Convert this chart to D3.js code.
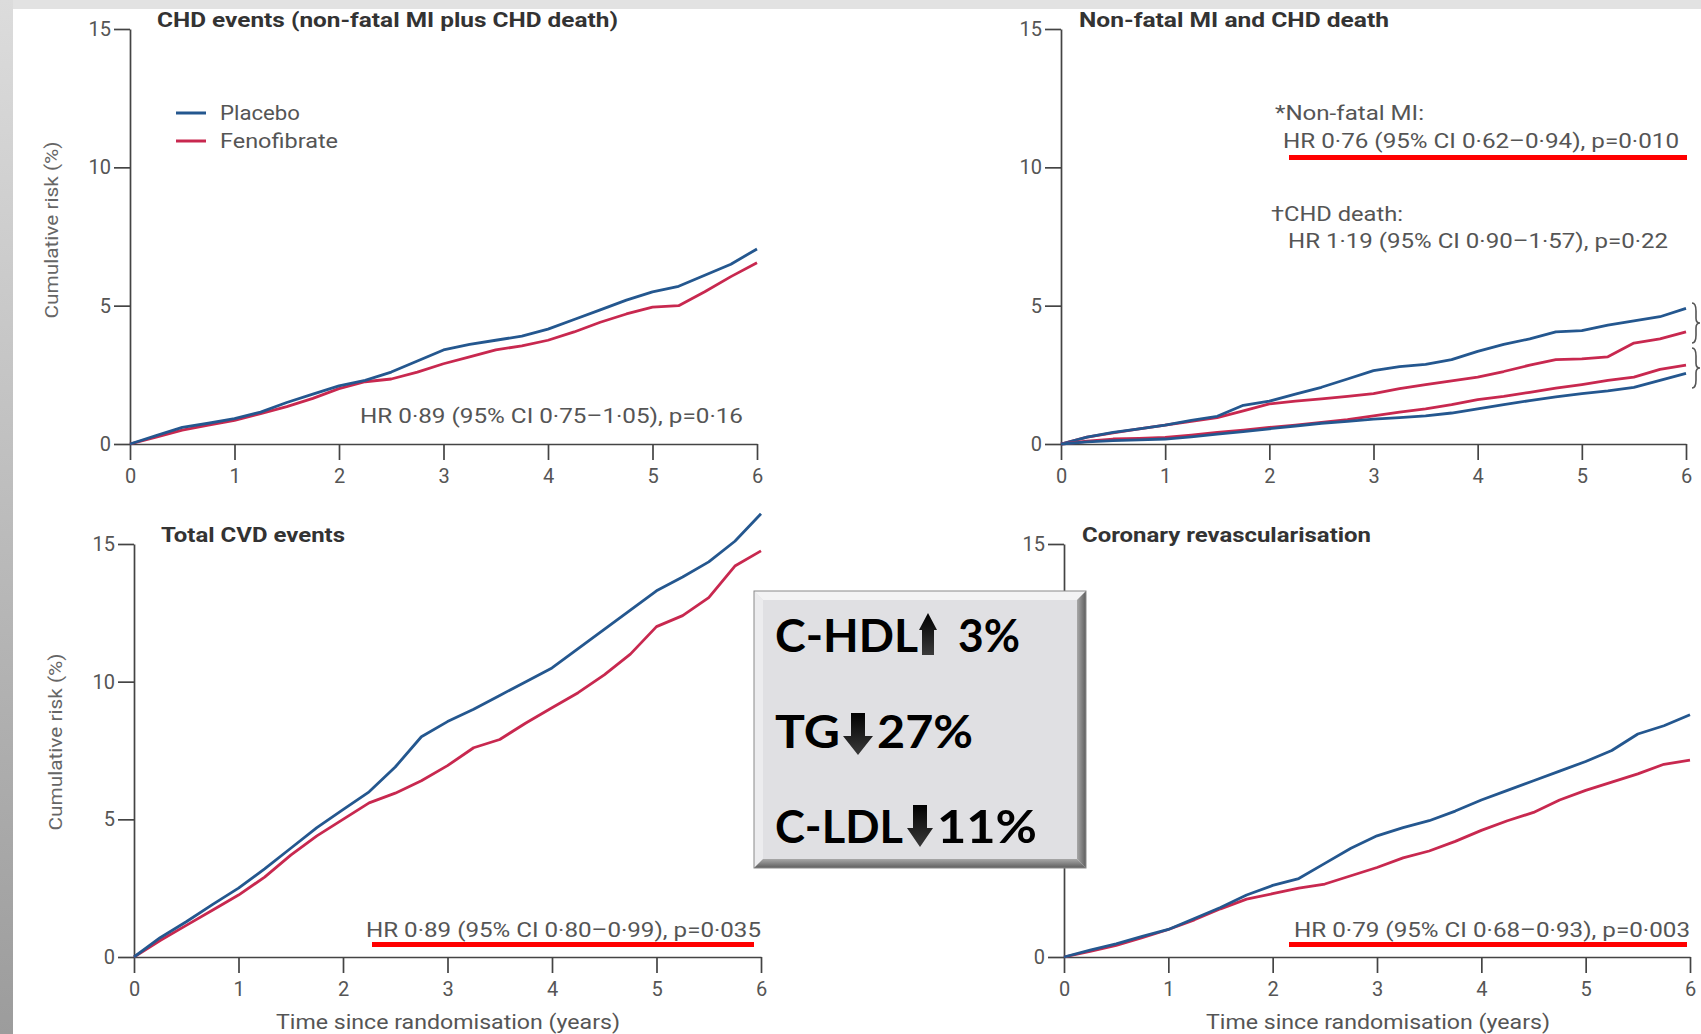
<!DOCTYPE html>
<head>
<meta charset="utf-8">
<style>
  body { margin: 0; background: #fff; }
  svg { display: block; }
  .tick text { font-family: 'Liberation Sans Narrow', 'Arial Narrow', Roboto, sans-serif; }
</style>
</head>
<body>
  <svg width="1701" height="1034"></svg>

  <script src="https://d3js.org/d3.v7.min.js"></script>
  <script>
  // time since randomisation (years) at which the curves were read
  const years = [0, 0.25, 0.5, 0.75, 1, 1.25, 1.5, 1.75, 2, 2.25, 2.5, 2.75, 3,
                 3.25, 3.5, 3.75, 4, 4.25, 4.5, 4.75, 5, 5.25, 5.5, 5.75, 6];

  // cumulative risk (%)
  const chdPlacebo = [0, 0.3, 0.6, 0.75, 0.92, 1.15, 1.5, 1.8, 2.1, 2.3, 2.6, 3.0, 3.4,
                      3.6, 3.75, 3.9, 4.15, 4.5, 4.85, 5.2, 5.5, 5.7, 6.1, 6.5, 7.05];
  const chdFeno    = [0, 0.25, 0.5, 0.68, 0.85, 1.1, 1.35, 1.65, 2.0, 2.25, 2.35, 2.6, 2.9,
                      3.15, 3.4, 3.55, 3.75, 4.05, 4.4, 4.7, 4.95, 5.0, 5.5, 6.05, 6.55];

  const miPlacebo    = [0, 0.25, 0.42, 0.55, 0.68, 0.85, 1.0, 1.4, 1.55, 1.8, 2.05, 2.35, 2.65,
                        2.8, 2.88, 3.05, 3.35, 3.6, 3.8, 4.05, 4.1, 4.3, 4.45, 4.6, 4.9];
  const miFeno       = [0, 0.25, 0.4, 0.55, 0.68, 0.82, 0.95, 1.2, 1.45, 1.55, 1.63, 1.72, 1.82,
                        2.0, 2.15, 2.28, 2.42, 2.62, 2.85, 3.05, 3.08, 3.15, 3.65, 3.8, 4.05];
  const deathFeno    = [0, 0.1, 0.18, 0.2, 0.24, 0.32, 0.42, 0.5, 0.6, 0.68, 0.78, 0.88, 1.02,
                        1.15, 1.27, 1.42, 1.6, 1.72, 1.87, 2.02, 2.15, 2.3, 2.42, 2.7, 2.85];
  const deathPlacebo = [0, 0.08, 0.12, 0.15, 0.18, 0.26, 0.36, 0.45, 0.55, 0.65, 0.75, 0.82, 0.9,
                        0.95, 1.02, 1.12, 1.27, 1.42, 1.57, 1.7, 1.82, 1.92, 2.05, 2.3, 2.55];

  const cvdPlacebo = [0, 0.7, 1.28, 1.9, 2.5, 3.2, 3.95, 4.7, 5.35, 6.0, 6.9, 8.0, 8.55,
                      9.0, 9.5, 10.0, 10.5, 11.2, 11.9, 12.6, 13.3, 13.8, 14.35, 15.1, 16.1];
  const cvdFeno    = [0, 0.6, 1.15, 1.7, 2.25, 2.9, 3.7, 4.4, 5.0, 5.6, 5.95, 6.4, 6.95,
                      7.6, 7.9, 8.5, 9.05, 9.6, 10.25, 11.0, 12.0, 12.4, 13.05, 14.2, 14.75];

  const revascPlacebo = [0, 0.25, 0.48, 0.75, 1.0, 1.4, 1.8, 2.25, 2.6, 2.85, 3.4, 3.95, 4.4,
                         4.7, 4.95, 5.3, 5.7, 6.05, 6.4, 6.75, 7.1, 7.5, 8.1, 8.4, 8.8];
  const revascFeno    = [0, 0.2, 0.42, 0.7, 1.0, 1.35, 1.75, 2.1, 2.3, 2.5, 2.65, 2.95, 3.25,
                         3.6, 3.85, 4.2, 4.6, 4.95, 5.25, 5.7, 6.05, 6.35, 6.65, 7.0, 7.15];

  const xTicks = [0, 1, 2, 3, 4, 5, 6];
  const yTicks = [0, 5, 10, 15];
  const legendLabels = ['Placebo', 'Fenofibrate'];
  const xLabel = 'Time since randomisation (years)';
  const yLabel = 'Cumulative risk (%)';

  const BLUE = '#24578f';
  const RED = '#c8284f';
  const FONT = "'Liberation Sans Narrow', 'Arial Narrow', Roboto, sans-serif";

  const svg = d3.select('svg');
  const defs = svg.append('defs');

  // slide background strips
  const stripGrad = defs.append('linearGradient').attr('id', 'strip')
    .attr('x1', 0).attr('y1', 0).attr('x2', 0).attr('y2', 1);
  stripGrad.append('stop').attr('offset', 0).attr('stop-color', '#dcdcdc');
  stripGrad.append('stop').attr('offset', 1).attr('stop-color', '#9c9c9c');
  svg.append('rect').attr('x', 0).attr('y', 0).attr('width', 1701).attr('height', 9).attr('fill', '#e2e2e2');
  svg.append('rect').attr('x', 0).attr('y', 0).attr('width', 13).attr('height', 1034).attr('fill', 'url(#strip)');

  const txt = (g, x, y, s, o = {}) => {
    const t = g.append('text')
      .attr('x', x).attr('y', y)
      .attr('font-family', o.family || FONT)
      .attr('font-size', o.size || 20)
      .attr('font-weight', o.weight || 'normal')
      .attr('fill', o.fill || '#555')
      .attr('text-anchor', o.anchor || 'start')
      .text(s);
    if (o.width) t.attr('textLength', o.width).attr('lengthAdjust', 'spacingAndGlyphs');
    if (o.rotate) t.attr('transform', `rotate(${o.rotate},${x},${y})`);
    return t;
  };

  const panels = [
    { title: 'CHD events (non-fatal MI plus CHD death)', titleW: 461,
      left: 130, right: 757, top: 29, bottom: 444,
      series: [[chdFeno, RED], [chdPlacebo, BLUE]],
      yLab: { x: 58, y: 230 }, legend: true,
      hr: { text: 'HR 0·89 (95% CI 0·75–1·05), p=0·16', x: 360, y: 423, w: 383 } },
    { title: 'Non-fatal MI and CHD death', titleW: 310,
      left: 1061, right: 1686, top: 29, bottom: 444,
      series: [[miFeno, RED], [miPlacebo, BLUE], [deathFeno, RED], [deathPlacebo, BLUE]],
      braces: true },
    { title: 'Total CVD events', titleW: 184,
      left: 134, right: 761, top: 544, bottom: 957,
      series: [[cvdFeno, RED], [cvdPlacebo, BLUE]],
      yLab: { x: 62, y: 742 }, xLab: { x: 448, y: 1029 },
      hr: { text: 'HR 0·89 (95% CI 0·80–0·99), p=0·035', x: 366, y: 937, w: 395, line: [372, 754] } },
    { title: 'Coronary revascularisation', titleW: 289,
      left: 1064, right: 1690, top: 544, bottom: 957,
      series: [[revascFeno, RED], [revascPlacebo, BLUE]],
      xLab: { x: 1378, y: 1029 },
      hr: { text: 'HR 0·79 (95% CI 0·68–0·93), p=0·003', x: 1294, y: 937, w: 396, line: [1289, 1687] } }
  ];

  panels.forEach(p => {
    const g = svg.append('g');
    const x = d3.scaleLinear().domain([0, 6]).range([p.left, p.right]);
    const y = d3.scaleLinear().domain([0, 15]).range([p.bottom, p.top]);

    // axes
    const ya = g.append('g').attr('transform', `translate(${p.left},0)`)
      .call(d3.axisLeft(y).tickValues(yTicks).tickFormat(d3.format('d'))
        .tickSize(16).tickSizeOuter(0).tickPadding(3));
    const xa = g.append('g').attr('transform', `translate(0,${p.bottom})`)
      .call(d3.axisBottom(x).tickValues(xTicks).tickFormat(d3.format('d'))
        .tickSize(16).tickSizeOuter(0).tickPadding(9));
    [ya, xa].forEach(a => {
      a.select('.domain').attr('stroke', '#444').attr('stroke-width', 1.7);
      a.selectAll('.tick line').attr('stroke', '#444').attr('stroke-width', 1.7);
      a.selectAll('.tick text').attr('font-size', 20).attr('fill', '#555');
    });

    // curves
    const line = d3.line().x((d, i) => x(years[i])).y(d => y(d));
    p.series.forEach(([vals, col]) => {
      g.append('path').datum(vals)
        .attr('d', line)
        .attr('fill', 'none')
        .attr('stroke', col)
        .attr('stroke-width', 2.8)
        .attr('stroke-linejoin', 'round');
    });

    txt(g, p.left + (p.left > 1000 ? 18 : 27), p.top - 2, p.title,
      { size: 21, weight: 'bold', fill: '#333', width: p.titleW });

    if (p.yLab) txt(g, p.yLab.x, p.yLab.y, yLabel,
      { size: 19, fill: '#666', anchor: 'middle', rotate: -90, width: 177 });
    if (p.xLab) txt(g, p.xLab.x, p.xLab.y, xLabel,
      { size: 20, fill: '#555', anchor: 'middle', width: 344 });

    if (p.hr) {
      txt(g, p.hr.x, p.hr.y, p.hr.text, { size: 21, fill: '#555', width: p.hr.w });
      if (p.hr.line) g.append('rect').attr('x', p.hr.line[0]).attr('y', p.hr.y + 5)
        .attr('width', p.hr.line[1] - p.hr.line[0]).attr('height', 5).attr('fill', '#ff0000');
    }

    if (p.legend) {
      legendLabels.forEach((lab, i) => {
        const ly = 113 + i * 28;
        g.append('line').attr('x1', 176).attr('x2', 206).attr('y1', ly).attr('y2', ly)
          .attr('stroke', i === 0 ? BLUE : RED).attr('stroke-width', 3);
        txt(g, 220, ly + 7, lab, { size: 21, fill: '#555', width: i === 0 ? 80 : 118 });
      });
    }

    if (p.braces) {
      const brace = (bx, y1, y2, w) => {
        const h = y2 - y1, ym = (y1 + y2) / 2;
        return `M${bx},${y1} Q${bx + w},${y1} ${bx + w},${y1 + h * 0.2} L${bx + w},${ym - h * 0.12}` +
          ` Q${bx + w},${ym} ${bx + 2 * w},${ym} Q${bx + w},${ym} ${bx + w},${ym + h * 0.12}` +
          ` L${bx + w},${y2 - h * 0.2} Q${bx + w},${y2} ${bx},${y2}`;
      };
      [[303, 343], [348, 388]].forEach(([a, b]) => {
        g.append('path').attr('d', brace(1692, a, b, 4))
          .attr('fill', 'none').attr('stroke', '#555').attr('stroke-width', 1.6);
      });
      txt(g, 1275, 120, '*Non-fatal MI:', { size: 21, fill: '#555', width: 149 });
      txt(g, 1283, 148, 'HR 0·76 (95% CI 0·62–0·94), p=0·010', { size: 21, fill: '#555', width: 396 });
      g.append('rect').attr('x', 1289).attr('y', 155).attr('width', 398).attr('height', 5).attr('fill', '#ff0000');
      txt(g, 1271, 221, '†CHD death:', { size: 21, fill: '#555', width: 132 });
      txt(g, 1288, 248, 'HR 1·19 (95% CI 0·90–1·57), p=0·22', { size: 21, fill: '#555', width: 380 });
    }
  });

  // lipid change box
  const box = svg.append('g');
  const bx0 = 754, bx1 = 1086, by0 = 591, by1 = 868, bev = 9;
  const rg = defs.append('linearGradient').attr('id', 'bevR').attr('x1', 0).attr('x2', 1).attr('y1', 0).attr('y2', 0);
  rg.append('stop').attr('offset', 0).attr('stop-color', '#a8a8a8');
  rg.append('stop').attr('offset', 1).attr('stop-color', '#5e5e5e');
  const bg = defs.append('linearGradient').attr('id', 'bevB').attr('x1', 0).attr('x2', 0).attr('y1', 0).attr('y2', 1);
  bg.append('stop').attr('offset', 0).attr('stop-color', '#a8a8a8');
  bg.append('stop').attr('offset', 1).attr('stop-color', '#5e5e5e');
  box.append('rect').attr('x', bx0).attr('y', by0).attr('width', bx1 - bx0).attr('height', by1 - by0).attr('fill', '#e0e0e3');
  const poly = (pts, fill) => box.append('polygon').attr('points', pts.map(d => d.join(',')).join(' ')).attr('fill', fill);
  poly([[bx0, by0], [bx1, by0], [bx1 - bev, by0 + bev], [bx0 + bev, by0 + bev]], '#f3f3f4');
  poly([[bx0, by0], [bx0 + bev, by0 + bev], [bx0 + bev, by1 - bev], [bx0, by1]], '#ececee');
  poly([[bx1, by0], [bx1, by1], [bx1 - bev, by1 - bev], [bx1 - bev, by0 + bev]], 'url(#bevR)');
  poly([[bx0, by1], [bx1, by1], [bx1 - bev, by1 - bev], [bx0 + bev, by1 - bev]], 'url(#bevB)');
  box.append('rect').attr('x', bx0).attr('y', by0).attr('width', bx1 - bx0).attr('height', by1 - by0)
    .attr('fill', 'none').attr('stroke', '#8a8a8a').attr('stroke-width', 1);

  const ag = defs.append('linearGradient').attr('id', 'arr').attr('x1', 0).attr('x2', 0).attr('y1', 0).attr('y2', 1);
  ag.append('stop').attr('offset', 0).attr('stop-color', '#000');
  ag.append('stop').attr('offset', 1).attr('stop-color', '#3a3a3a');
  const arrow = (cx, top, bottom, hw, sw, hh, up) => {
    const pts = up
      ? [[cx, top], [cx + hw, top + hh], [cx + sw, top + hh], [cx + sw, bottom], [cx - sw, bottom], [cx - sw, top + hh], [cx - hw, top + hh]]
      : [[cx, bottom], [cx + hw, bottom - hh], [cx + sw, bottom - hh], [cx + sw, top], [cx - sw, top], [cx - sw, bottom - hh], [cx - hw, bottom - hh]];
    box.append('polygon').attr('points', pts.map(d => d.join(',')).join(' ')).attr('fill', 'url(#arr)');
  };
  const BF = "Lato, 'Open Sans', sans-serif";
  const bopt = (w) => ({ family: BF, size: 46, weight: 'bold', fill: '#000', width: w });
  txt(box, 775, 652, 'C-HDL', bopt(143));
  arrow(928, 613, 655, 9, 6, 17, true);
  txt(box, 958, 652, '3%', bopt(62));
  txt(box, 775, 748, 'TG', bopt(65));
  arrow(858, 713, 755, 15, 7, 19, false);
  txt(box, 877, 748, '27%', bopt(96));
  txt(box, 775, 843, 'C-LDL', bopt(128));
  arrow(920, 805, 847, 13, 7, 19, false);
  txt(box, 937, 843, '11%', bopt(100));
  </script>
</body>
</html>
